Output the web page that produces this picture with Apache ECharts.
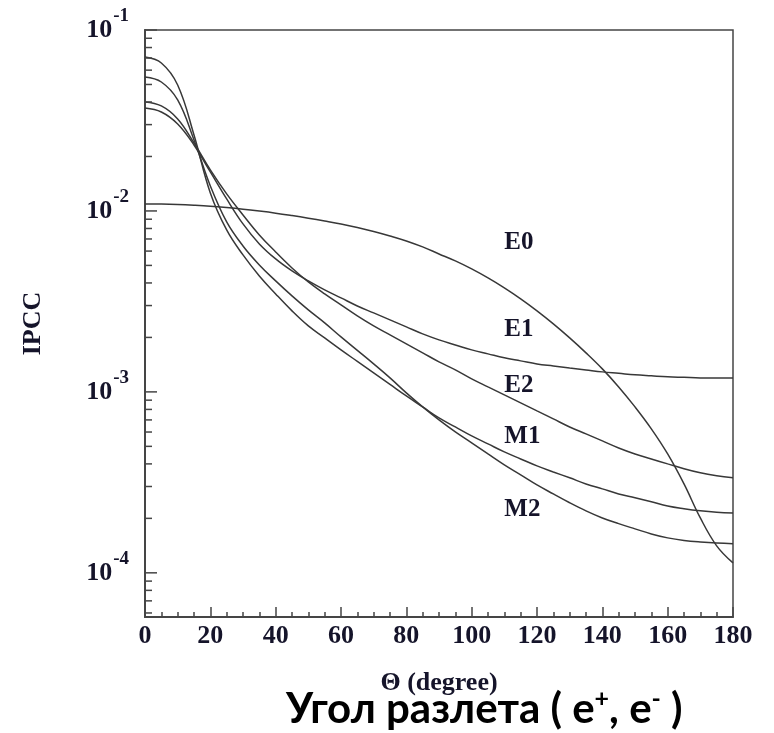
<!DOCTYPE html>
<html>
<head>
<meta charset="utf-8">
<script src="https://cdn.jsdelivr.net/npm/echarts@6/dist/echarts.min.js"></script>
<style>
  html, body { margin: 0; padding: 0; background: #ffffff; }
  #chart { width: 774px; height: 733px; }
</style>
</head>
<body>
<div id="chart"></div>
<script>
// Opening angle of the pair, degrees (every 5°)
const theta = [0, 5, 10, 15, 20, 25, 30, 35, 40, 45, 50, 55, 60, 65, 70, 75, 80, 85, 90,
               95, 100, 105, 110, 115, 120, 125, 130, 135, 140, 145, 150, 155, 160, 165, 170, 175, 180];

// Internal pair conversion coefficient per multipolarity
const ipccE0 = [0.01093, 0.01091, 0.01085, 0.01075, 0.01062, 0.01044, 0.01023, 0.009987, 0.009724, 0.009430,
                0.009125, 0.008805, 0.008477, 0.008108, 0.007706, 0.007277, 0.006829, 0.006326, 0.005786,
                0.005293, 0.004781, 0.004263, 0.003756, 0.003265, 0.002803, 0.002375, 0.001988, 0.001643,
                0.001340, 0.001065, 0.000826, 0.000625, 0.000454, 0.000310, 0.000201, 0.000141, 0.0001135];
const ipccE1 = [0.03708, 0.03524, 0.03024, 0.02315, 0.01643, 0.01165, 0.008477, 0.006574, 0.005429, 0.004661,
                0.004105, 0.003661, 0.003307, 0.002985, 0.002732, 0.002499, 0.002286, 0.002091, 0.001938,
                0.001818, 0.001707, 0.001622, 0.001542, 0.001484, 0.001428, 0.001392, 0.001357, 0.001323,
                0.001290, 0.001266, 0.001242, 0.001226, 0.001211, 0.001203, 0.001195, 0.001195, 0.001195];
const ipccE2 = [0.04002, 0.03804, 0.03224, 0.02375, 0.01685, 0.01242, 0.009504, 0.007370, 0.005935, 0.004842,
                0.004053, 0.003479, 0.003024, 0.002629, 0.002315, 0.002065, 0.001842, 0.001643, 0.001465,
                0.001323, 0.001180, 0.001065, 0.000963, 0.000870, 0.000785, 0.000709, 0.000640, 0.000586,
                0.000536, 0.000490, 0.000454, 0.000426, 0.000400, 0.000376, 0.000357, 0.000344, 0.000335];
const ipccM1 = [0.07091, 0.06574, 0.04967, 0.02629, 0.01258, 0.007852, 0.005713, 0.004373, 0.003479, 0.002803,
                0.002315, 0.001988, 0.001707, 0.001474, 0.001274, 0.001100, 0.000950, 0.000826, 0.000718,
                0.000640, 0.000571, 0.000516, 0.000466, 0.000426, 0.000390, 0.000361, 0.000335, 0.000310,
                0.000291, 0.000273, 0.000260, 0.000247, 0.000234, 0.000226, 0.000220, 0.000216, 0.000214];
const ipccM2 = [0.05498, 0.05159, 0.04105, 0.02467, 0.01374, 0.008696, 0.006404, 0.005030, 0.004105, 0.003392,
                0.002838, 0.002405, 0.002013, 0.001696, 0.001428, 0.001195, 0.000987, 0.000826, 0.000700,
                0.000601, 0.000523, 0.000454, 0.000395, 0.000348, 0.000306, 0.000273, 0.000244, 0.000220,
                0.000201, 0.000187, 0.000175, 0.000164, 0.000156, 0.000151, 0.000148, 0.000146, 0.000145];

// Curve names and where their tags sit (angle, coefficient)
const curveNames = ['E0', 'E1', 'E2', 'M1', 'M2'];
const tagTheta = [110, 110, 110, 110, 110];
const tagValue = [0.00665, 0.00220, 0.00109, 0.000564, 0.000223];

// Axis ranges and ticks
const xMin = 0, xMax = 180, xStep = 20;
const yMin = 5.7e-5, yMax = 0.1;
const yTickValues = [];
for (let d = -5; d <= -1; d++) {
  for (let k = 1; k <= 9; k++) {
    const v = k * Math.pow(10, d);
    if (v >= yMin * 0.999 && v <= yMax * 1.001) yTickValues.push(v);
  }
}

const ink = '#15142a';
const axisColor = '#454545';
const lineColor = '#383838';
const serif = '"Liberation Serif", "Times New Roman", serif';
const sans = 'Lato, "Open Sans", sans-serif';

const curves = [ipccE0, ipccE1, ipccE2, ipccM1, ipccM2];

const isDecade = v => Math.abs(Math.log10(v) - Math.round(Math.log10(v))) < 1e-6;

const chart = echarts.init(document.getElementById('chart'), null, { renderer: 'canvas' });

const lineSeries = curves.map((vals, i) => ({
  name: curveNames[i],
  type: 'line',
  data: theta.map((t, j) => [t, vals[j]]),
  showSymbol: false,
  smooth: 0.4,
  lineStyle: { color: lineColor, width: 1.5 },
  silent: true,
  z: 3
}));

chart.setOption({
  animation: false,
  backgroundColor: '#ffffff',
  title: {
    text: '{m|Угол разлета ( e}{s|+}{m|, e}{s|-}{m| )}',
    left: 281,
    top: 681,
    textStyle: {
      rich: {
        m: { fontFamily: sans, fontWeight: 'bold', fontSize: 42, color: '#000000' },
        s: { fontFamily: sans, fontWeight: 'bold', fontSize: 25, color: '#000000', padding: [0, 0, 22, 0] }
      }
    }
  },
  grid: {
    left: 145, right: 41, top: 30, bottom: 116,
    show: true,
    borderColor: axisColor,
    borderWidth: 1.5,
    backgroundColor: 'transparent',
    outerBoundsMode: 'none'
  },
  xAxis: {
    type: 'value',
    min: xMin, max: xMax, interval: xStep,
    name: 'Θ (degree)',
    nameLocation: 'middle',
    nameGap: 53,
    nameTextStyle: { fontFamily: serif, fontWeight: 'bold', fontSize: 26, color: ink },
    axisLine: { show: true, lineStyle: { color: axisColor, width: 2 } },
    axisTick: { show: true, inside: true, length: 10, lineStyle: { color: axisColor, width: 1.5 } },
    minorTick: { show: true, splitNumber: 4, length: 5, lineStyle: { color: axisColor, width: 1.5 } },
    splitLine: { show: false },
    minorSplitLine: { show: false },
    axisLabel: { fontFamily: serif, fontWeight: 'bold', fontSize: 26, color: ink, margin: 6 }
  },
  yAxis: {
    type: 'log',
    logBase: 10,
    min: yMin, max: yMax,
    name: 'IPCC',
    nameLocation: 'middle',
    nameGap: 99,
    nameRotate: 90,
    nameTextStyle: { fontFamily: serif, fontWeight: 'bold', fontSize: 26, color: ink },
    axisLine: { show: true, lineStyle: { color: axisColor, width: 2 } },
    axisTick: { show: false },
    splitLine: { show: false },
    axisLabel: {
      margin: 16,
      formatter: v => isDecade(v) ? '{b|10}{s|' + Math.round(Math.log10(v)) + '}' : '',
      rich: {
        b: { fontFamily: serif, fontWeight: 'bold', fontSize: 26, lineHeight: 26, color: ink },
        s: { fontFamily: serif, fontWeight: 'bold', fontSize: 19, lineHeight: 19, color: ink, padding: [0, 0, 28, 1] }
      }
    }
  },
  series: [
    ...lineSeries,
    {
      // inward log ticks along the left axis
      type: 'custom',
      silent: true,
      z: 4,
      data: yTickValues.map(v => [xMin, v]),
      renderItem: (params, api) => {
        const v = api.value(1);
        const p = api.coord([xMin, v]);
        const len = isDecade(v) ? 12 : 7;
        return {
          type: 'line',
          shape: { x1: p[0], y1: p[1], x2: p[0] + len, y2: p[1] },
          style: { stroke: axisColor, lineWidth: 1.5 }
        };
      }
    },
    {
      // curve name tags
      type: 'custom',
      silent: true,
      z: 5,
      data: curveNames.map((n, i) => [tagTheta[i], tagValue[i]]),
      renderItem: (params, api) => {
        const p = api.coord([api.value(0), api.value(1)]);
        return {
          type: 'text',
          x: p[0],
          y: p[1],
          style: {
            text: curveNames[params.dataIndex],
            fontFamily: serif,
            fontWeight: 'bold',
            fontSize: 25,
            fill: ink,
            align: 'left',
            verticalAlign: 'middle'
          }
        };
      }
    }
  ]
});
</script>
</body>
</html>
